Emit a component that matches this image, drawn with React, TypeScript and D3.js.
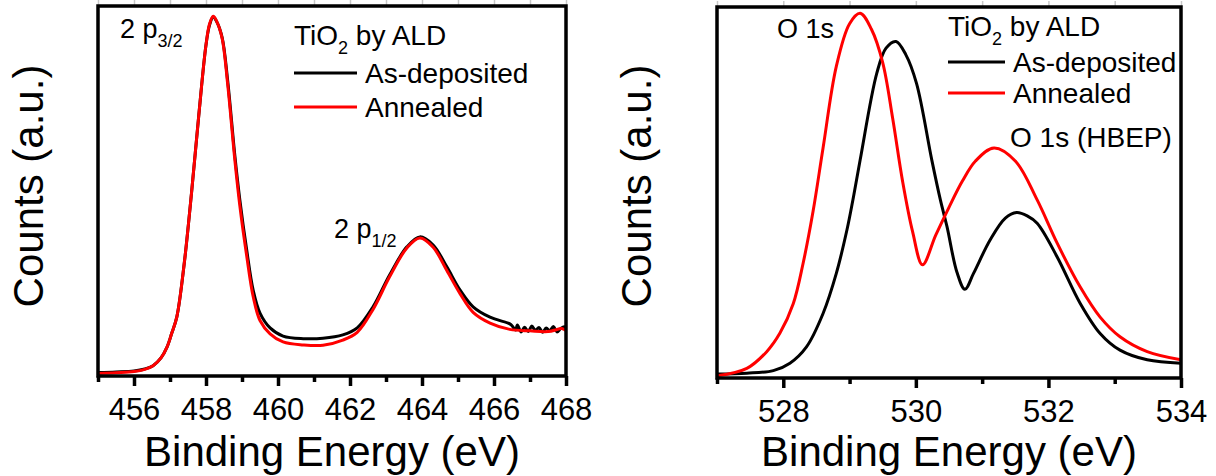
import React, { useEffect, useRef } from "react";
import * as d3 from "d3";

// Ti 2p panel
const tiEnergyAsDep = [
  455.0, 455.5, 456.0, 456.3, 456.53, 456.75, 456.92, 457.05, 457.19, 457.4, 457.6, 457.8, 458.0,
  458.1, 458.2, 458.3, 458.45, 458.6, 458.8, 458.94, 459.13, 459.31, 459.5, 459.78, 460.14, 460.7,
  461.25, 461.8, 462.2, 462.64, 463.1, 463.58, 463.94, 464.31, 464.69, 465.06, 465.42, 465.89,
  466.44, 466.5, 466.6, 466.65, 466.75, 466.85, 466.95, 467.05, 467.15, 467.25, 467.35, 467.45,
  467.55, 467.65, 467.75, 467.85, 467.95, 468.0,
];
const tiCountsAsDep = [
  0.95, 1.1, 1.35, 1.9, 2.8, 4.9, 7.9, 11.6, 16.0, 30.8, 49.7, 70.5, 89.5,
  94.9, 97.0, 95.7, 91.4, 80.0, 59.7, 47.6, 34.1, 23.2, 17.0, 13.0, 10.8, 10.1,
  10.2, 11.1, 13.0, 18.7, 27.3, 34.9, 37.6, 35.4, 29.5, 23.2, 18.7, 15.9,
  14.1, 13.6, 12.4, 13.8, 11.9, 13.2, 12.0, 13.5, 12.3, 13.1, 11.8, 13.0,
  12.2, 13.4, 11.9, 12.8, 13.3, 12.6,
];
const tiEnergyAnn = [
  455.0, 455.5, 456.0, 456.3, 456.53, 456.75, 456.92, 457.05, 457.19, 457.4, 457.6, 457.8, 458.0,
  458.1, 458.2, 458.3, 458.45, 458.6, 458.8, 458.94, 459.13, 459.31, 459.5, 459.78, 460.14, 460.7,
  461.25, 461.8, 462.2, 462.64, 463.1, 463.58, 463.94, 464.31, 464.69, 465.06, 465.42, 465.89,
  466.44, 467.0, 467.5, 467.9, 468.0,
];
const tiCountsAnn = [
  0.7, 0.9, 1.2, 1.8, 2.8, 4.9, 7.9, 11.6, 16.0, 30.8, 49.7, 70.5, 89.5,
  95.2, 97.2, 95.8, 91.2, 79.0, 58.5, 46.0, 32.5, 21.5, 15.0, 11.4, 9.2, 8.4,
  8.3, 9.7, 11.8, 18.0, 26.8, 34.6, 37.3, 34.8, 28.5, 22.2, 17.2, 14.3,
  12.6, 12.2, 12.0, 12.8, 12.3,
];
const tiMajorTicks = [456, 458, 460, 462, 464, 466, 468];
const tiMinorTicks = [455, 457, 459, 461, 463, 465, 467];

// O 1s panel
const oEnergyAsDep = [
  527.0, 527.45, 527.85, 528.1, 528.35, 528.6, 528.8, 528.96, 529.05, 529.16, 529.41, 529.55,
  529.7, 529.85, 530.01, 530.24, 530.37, 530.47, 530.62, 530.74, 530.87, 531.12, 531.35, 531.52,
  531.68, 531.83, 532.13, 532.48, 532.78, 533.08, 533.49, 534.0,
];
const oCountsAsDep = [
  1.1, 1.3, 2.0, 4.0, 8.4, 17.4, 28.2, 39.9, 48.0, 58.8, 82.1, 88.9,
  90.7, 87.1, 79.4, 58.8, 48.0, 40.8, 28.5, 23.9, 28.2, 37.2, 43.1, 44.6,
  43.7, 41.7, 32.7, 20.1, 12.0, 7.5, 4.9, 4.0,
];
const oEnergyAnn = [
  527.0, 527.45, 527.75, 527.95, 528.15, 528.3, 528.45, 528.6, 528.8, 529.0, 529.16, 529.33,
  529.5, 529.65, 529.8, 529.95, 530.1, 530.3, 530.5, 530.7, 530.9, 531.18, 531.5, 531.83,
  532.13, 532.48, 532.78, 533.08, 533.49, 534.0,
];
const oCountsAnn = [
  0.6, 2.6, 7.1, 12.1, 20.0, 31.0, 45.0, 62.0, 84.0, 95.5, 98.3, 94.0,
  85.0, 70.0, 53.0, 39.5, 30.5, 38.5, 46.0, 53.0, 58.5, 62.0, 58.5, 48.0,
  36.4, 24.5, 16.4, 11.1, 7.1, 4.9,
];
const oMajorTicks = [528, 530, 532, 534];
const oMinorTicks = [527, 529, 531, 533];

const FONT = "'Liberation Sans', Arial, sans-serif";

type Sel = d3.Selection<SVGSVGElement, unknown, null, undefined>;

type Panel = {
  id: string;
  domain: [number, number];
  left: number;
  right: number;
  top: number;
  bottom: number;
  major: number[];
  minor: number[];
  series: { e: number[]; c: number[]; color: string }[];
  ylabelX: number;
};

function drawPanel(svg: Sel, p: Panel) {
  const x = d3.scaleLinear().domain(p.domain).range([p.left, p.right]);
  const y = d3.scaleLinear().domain([0, 100]).range([p.bottom, p.top]);

  svg
    .append("clipPath")
    .attr("id", "clip-" + p.id)
    .append("rect")
    .attr("x", p.left)
    .attr("y", p.top)
    .attr("width", p.right - p.left)
    .attr("height", p.bottom - p.top);

  const line = d3
    .line<[number, number]>()
    .x((d) => x(d[0]))
    .y((d) => y(d[1]))
    .curve(d3.curveCatmullRom.alpha(0.5));

  p.series.forEach((s) => {
    const pts = s.e.map((e, i) => [e, s.c[i]] as [number, number]);
    svg
      .append("path")
      .attr("d", line(pts))
      .attr("fill", "none")
      .attr("stroke", s.color)
      .attr("stroke-width", 3)
      .attr("stroke-linejoin", "round")
      .attr("clip-path", "url(#clip-" + p.id + ")");
  });

  // faint top ticks
  const topAx = svg.append("g").attr("transform", "translate(0," + p.top + ")");
  topAx.call(d3.axisTop(x).tickValues([...p.major, ...p.minor]).tickSize(6).tickFormat(() => ""));
  topAx.select(".domain").remove();
  topAx.selectAll("line").style("stroke", "#c8c8c8").style("stroke-width", "1.5px");

  // minor bottom ticks
  const minAx = svg.append("g").attr("transform", "translate(0," + p.bottom + ")");
  minAx.call(d3.axisBottom(x).tickValues(p.minor).tickSize(6).tickFormat(() => ""));
  minAx.select(".domain").remove();
  minAx.selectAll("line").style("stroke", "#000").style("stroke-width", "3.5px");

  // major bottom ticks
  const ax = svg.append("g").attr("transform", "translate(0," + p.bottom + ")");
  ax.call(
    d3
      .axisBottom(x)
      .tickValues(p.major)
      .tickSize(10)
      .tickPadding(12)
      .tickFormat(d3.format("d") as any)
  );
  ax.select(".domain").remove();
  ax.selectAll("line").style("stroke", "#000").style("stroke-width", "3.5px");
  ax.selectAll("text")
    .attr("font-family", FONT)
    .attr("font-size", 31)
    .attr("fill", "#000");

  // frame
  svg
    .append("rect")
    .attr("x", p.left)
    .attr("y", p.top)
    .attr("width", p.right - p.left)
    .attr("height", p.bottom - p.top)
    .attr("fill", "none")
    .attr("stroke", "#000")
    .attr("stroke-width", 3.5);

  svg
    .append("text")
    .attr("x", (p.left + p.right) / 2)
    .attr("y", 466)
    .attr("text-anchor", "middle")
    .attr("font-family", FONT)
    .attr("font-size", 42)
    .text("Binding Energy (eV)");

  svg
    .append("text")
    .attr("transform", "translate(" + p.ylabelX + ",186) rotate(-90)")
    .attr("text-anchor", "middle")
    .attr("font-family", FONT)
    .attr("font-size", 42)
    .text("Counts (a.u.)");
}

function addText(svg: Sel, xp: number, yp: number, size: number, main: string, sub?: string, rest?: string) {
  const t = svg
    .append("text")
    .attr("x", xp)
    .attr("y", yp)
    .attr("font-family", FONT)
    .attr("font-size", size);
  t.append("tspan").text(main);
  if (sub) {
    t.append("tspan").attr("font-size", 18).attr("dy", 9).text(sub);
    if (rest) t.append("tspan").attr("dy", -9).text(rest);
  }
}

function addLegend(svg: Sel, x0: number, x1: number, tx: number, title: number, rows: number[]) {
  addText(svg, x0, title, 28, "TiO", "2", " by ALD");
  const names = ["As-deposited", "Annealed"];
  const colors = ["#000", "#ff0000"];
  rows.forEach((ry, i) => {
    svg
      .append("line")
      .attr("x1", x0)
      .attr("x2", x1)
      .attr("y1", ry)
      .attr("y2", ry)
      .attr("stroke", colors[i])
      .attr("stroke-width", 3);
    svg
      .append("text")
      .attr("x", tx)
      .attr("y", ry + 10)
      .attr("font-family", FONT)
      .attr("font-size", 28)
      .text(names[i]);
  });
}

export default function App() {
  const ref = useRef<SVGSVGElement>(null);

  useEffect(() => {
    document.body.style.margin = "0";
    const svg = d3.select(ref.current as SVGSVGElement);
    svg.selectAll("*").remove();

    drawPanel(svg, {
      id: "ti",
      domain: [455, 468],
      left: 98,
      right: 566,
      top: 6,
      bottom: 376,
      major: tiMajorTicks,
      minor: tiMinorTicks,
      series: [
        { e: tiEnergyAsDep, c: tiCountsAsDep, color: "#000" },
        { e: tiEnergyAnn, c: tiCountsAnn, color: "#ff0000" },
      ],
      ylabelX: 43,
    });
    drawPanel(svg, {
      id: "o",
      domain: [527, 534],
      left: 717,
      right: 1181,
      top: 7,
      bottom: 378,
      major: oMajorTicks,
      minor: oMinorTicks,
      series: [
        { e: oEnergyAsDep, c: oCountsAsDep, color: "#000" },
        { e: oEnergyAnn, c: oCountsAnn, color: "#ff0000" },
      ],
      ylabelX: 651,
    });

    addLegend(svg, 294, 357, 365, 45, [73, 107]);
    addLegend(svg, 948, 1005, 1013, 36, [62, 93]);

    addText(svg, 120, 38, 27, "2 p", "3/2");
    addText(svg, 334, 238, 27, "2 p", "1/2");
    addText(svg, 777, 38, 27, "O 1s");
    addText(svg, 1010, 147, 28, "O 1s (HBEP)");
  }, []);

  return <svg ref={ref} width={1216} height={476} style={{ display: "block", background: "#fff" }} />;
}
